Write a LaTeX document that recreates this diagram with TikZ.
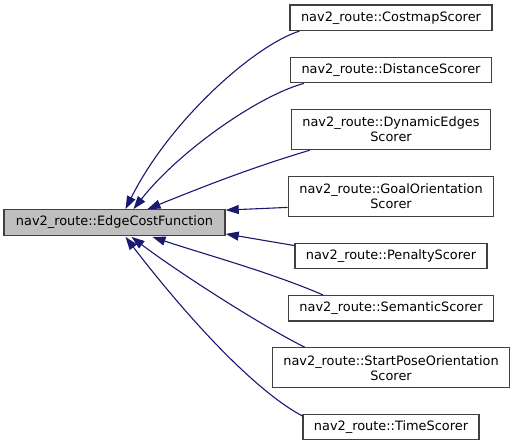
\documentclass[tikz,border=0pt]{standalone}
\usepackage{fontspec}
\setmainfont{DejaVu Sans}
\usetikzlibrary{arrows.meta,positioning}
\definecolor{edgeblue}{RGB}{25,25,112}
\definecolor{boxgray}{RGB}{191,191,191}
\definecolor{linegray}{RGB}{64,64,64}

\begin{document}
\begin{tikzpicture}[x=1pt, y=-1pt,
    node distance=25.5pt,
    cls/.style={rectangle, draw=linegray, line width=1.3pt, fill=white, align=center, minimum height=25.5pt, inner xsep=11pt, inner ysep=3pt, font=\fontsize{12.9}{15}\selectfont},
    cls2/.style={cls, minimum height=40pt},
    parent/.style={cls, fill=boxgray, inner xsep=12pt},
    arrow/.style={-{Triangle[length=13pt,width=9pt]}, edgeblue, line width=1.1pt}
]
\useasboundingbox (0,0) rectangle (516,439);

% Base class
\node[parent] (edgecost) at (114.5,222.5) {nav2\_route::EdgeCostFunction};

% Derived scorers
\node[cls] (costmap) at (391,17.75) {nav2\_route::CostmapScorer};
\node[cls, below=of costmap] (distance) {nav2\_route::DistanceScorer};
\node[cls2, below=of distance] (dynamic) {nav2\_route::DynamicEdges\\Scorer};
\node[cls2, below=of dynamic] (goal) {nav2\_route::GoalOrientation\\Scorer};
\node[cls, below=of goal] (penalty) {nav2\_route::PenaltyScorer};
\node[cls, below=of penalty] (semantic) {nav2\_route::SemanticScorer};
\node[cls2, below=of semantic] (startpose) {nav2\_route::StartPoseOrientation\\Scorer};
\node[cls, below=of startpose] (time) {nav2\_route::TimeScorer};

% Inheritance arrows
\draw[arrow] ([xshift=10pt]costmap.south west) .. controls (255,45) and (170,120) .. ([xshift=11pt]edgecost.north);
\draw[arrow] ([xshift=14pt]distance.south west) .. controls (260,95) and (180,150) .. ([xshift=19pt]edgecost.north);
\draw[arrow] ([xshift=19pt]dynamic.south west) .. controls (250,168) and (200,188) .. ([xshift=33pt]edgecost.north);
\draw[arrow] ([yshift=-11pt]goal.west) -- ([yshift=-1pt]edgecost.north east);
\draw[arrow] ([yshift=-3pt]penalty.north west) -- ([yshift=2pt]edgecost.south east);
\draw[arrow] ([xshift=35pt]semantic.north west) .. controls (270,272) and (200,253) .. ([xshift=38pt,yshift=-1pt]edgecost.south);
\draw[arrow] ([xshift=33pt]startpose.north west) .. controls (260,325) and (175,270) .. ([xshift=17pt,yshift=-1pt]edgecost.south);
\draw[arrow] ([yshift=-2pt]time.north west) .. controls (245,385) and (170,295) .. ([xshift=11pt,yshift=-1pt]edgecost.south);

\end{tikzpicture}
\end{document}
